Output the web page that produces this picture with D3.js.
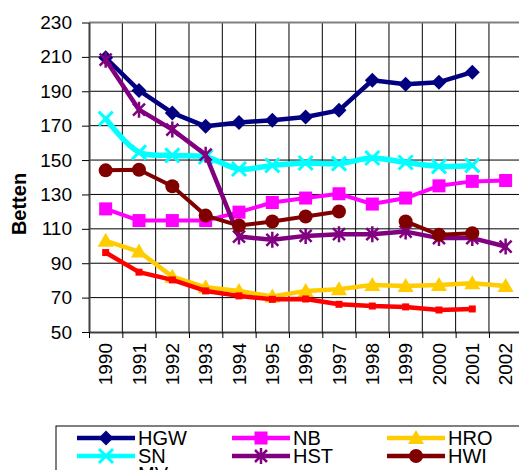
<!DOCTYPE html>
<html>
<head>
<meta charset="utf-8">
<script src="https://cdn.jsdelivr.net/npm/d3@7"></script>
<style>
  html, body { margin: 0; padding: 0; background: #fff; }
  svg { display: block; font-family: "Liberation Sans", Arial, sans-serif; }
</style>
</head>
<body>
<svg id="chart" width="519" height="470"></svg>
<script>
// Beds per 1,000 inhabitants by city, 1990–2002
const years = ["1990","1991","1992","1993","1994","1995","1996","1997","1998","1999","2000","2001","2002"];
const yTicks = [50, 70, 90, 110, 130, 150, 170, 190, 210, 230];

const HGW = [209.5, 190.5, 177.4, 169.6, 171.9, 173.1, 175.0, 178.9, 196.4, 194.1, 195.3, 201.1, null];
const NB  = [121.6, 114.8, 114.8, 114.8, 119.7, 125.3, 127.9, 130.4, 124.4, 127.9, 135.0, 137.6, 138.1];
const HRO = [103.0, 96.8, 82.2, 76.0, 73.9, 70.6, 73.9, 74.9, 77.4, 76.8, 77.4, 78.4, 76.8];
const SN  = [174.1, 154.5, 152.7, 151.8, 144.8, 146.9, 148.3, 147.9, 151.2, 148.6, 146.3, 146.9, null];
const HST = [208.4, 179.3, 167.7, 153.1, 105.5, 103.6, 105.9, 106.9, 106.9, 108.4, 104.6, 104.6, 99.7];
const HWI = [144.0, 144.4, 134.8, 117.7, 111.9, 114.3, 117.2, 120.1, null, 114.3, 106.5, 107.5, null];
const MV  = [96.2, 84.8, 80.3, 73.9, 71.0, 69.0, 69.2, 66.1, 65.1, 64.6, 62.8, 63.4, null];

const series = [
  { name: "HGW", values: HGW, color: "#000080", width: 4.5, marker: "diamond" },
  { name: "NB",  values: NB,  color: "#FF00FF", width: 4,   marker: "square" },
  { name: "HRO", values: HRO, color: "#FFCC00", width: 4.5, marker: "triangle" },
  { name: "SN",  values: SN,  color: "#00FFFF", width: 5.5, marker: "x", smooth: true },
  { name: "HST", values: HST, color: "#800080", width: 4.5, marker: "star" },
  { name: "HWI", values: HWI, color: "#800000", width: 4,   marker: "circle" },
  { name: "MV",  values: MV,  color: "#FF0000", width: 4.5, marker: "smallsquare" }
];

const svg = d3.select("#chart");
const plotLeft = 89, plotTop = 22.5, plotBottom = 332, step = 33.33;

const x = d3.scaleBand().domain(years).range([plotLeft, plotLeft + step * years.length]);
const y = d3.scaleLinear().domain([50, 230]).range([plotBottom, plotTop]);

// grid
const grid = svg.append("g");
grid.selectAll("line.h").data(yTicks.slice(1, -1)).join("line")
  .attr("x1", plotLeft).attr("x2", x.range()[1])
  .attr("y1", d => y(d)).attr("y2", d => y(d))
  .attr("stroke", "#000").attr("stroke-width", 1);
grid.selectAll("line.v").data(years.slice(1)).join("line")
  .attr("x1", d => x(d)).attr("x2", d => x(d))
  .attr("y1", plotTop).attr("y2", plotBottom)
  .attr("stroke", "#000").attr("stroke-width", 1);
// plot-area top border
grid.append("line")
  .attr("x1", plotLeft).attr("x2", x.range()[1])
  .attr("y1", plotTop).attr("y2", plotTop)
  .attr("stroke", "#808080").attr("stroke-width", 2);

// y axis
const yAxis = svg.append("g")
  .attr("transform", `translate(${plotLeft},0)`)
  .call(d3.axisLeft(y).tickValues(yTicks).tickSize(7).tickPadding(10).tickSizeOuter(0));
yAxis.select(".domain").attr("stroke", "#404040").attr("stroke-width", 2);
yAxis.selectAll(".tick line").attr("stroke", "#000").attr("stroke-width", 1);
yAxis.selectAll(".tick text").attr("font-size", 19).attr("fill", "#000")
  .attr("font-family", "Liberation Sans, Arial, sans-serif");

// x axis: ticks at category boundaries, labels rotated
const xb = d3.scaleLinear().domain([0, years.length]).range(x.range());
const xTickAxis = svg.append("g")
  .attr("transform", `translate(0,${plotBottom})`)
  .call(d3.axisBottom(xb).tickValues(d3.range(0, years.length + 1)).tickSize(6).tickFormat("").tickSizeOuter(0));
xTickAxis.select(".domain").attr("stroke", "#404040").attr("stroke-width", 2);
xTickAxis.selectAll(".tick line").attr("stroke", "#000").attr("stroke-width", 1);

const xAxis = svg.append("g")
  .attr("transform", `translate(0,${plotBottom})`)
  .call(d3.axisBottom(x).tickSize(0).tickPadding(0));
xAxis.select(".domain").remove();
xAxis.selectAll(".tick text")
  .attr("font-size", 19).attr("fill", "#000")
  .attr("font-family", "Liberation Sans, Arial, sans-serif")
  .attr("text-anchor", "end")
  .attr("transform", "translate(0,11) rotate(-90)")
  .attr("x", 0).attr("y", 0).attr("dy", "0.35em");

// y title
svg.append("text")
  .attr("transform", "translate(26,204) rotate(-90)")
  .attr("text-anchor", "middle")
  .attr("font-size", 20).attr("font-weight", "bold")
  .text("Betten");

// markers
function drawMarker(g, type, color) {
  switch (type) {
    case "diamond":
      g.append("path").attr("d", "M0,-7.5L7.5,0L0,7.5L-7.5,0Z").attr("fill", color); break;
    case "square":
      g.append("rect").attr("x", -6.5).attr("y", -6.5).attr("width", 13).attr("height", 13).attr("fill", color); break;
    case "triangle":
      g.append("path").attr("d", "M0,-8L8,6L-8,6Z").attr("fill", color); break;
    case "x":
      g.append("path").attr("d", "M-7,-7L7,7M-7,7L7,-7").attr("stroke", color).attr("stroke-width", 3).attr("fill", "none"); break;
    case "star":
      g.append("path").attr("d", "M-6,-6L6,6M-6,6L6,-6M0,-8L0,8").attr("stroke", color).attr("stroke-width", 2.5).attr("fill", "none"); break;
    case "circle":
      g.append("circle").attr("r", 7).attr("fill", color); break;
    case "smallsquare":
      g.append("rect").attr("x", -3.5).attr("y", -3.5).attr("width", 7).attr("height", 7).attr("fill", color); break;
  }
}

// series
const plot = svg.append("g");
series.forEach(s => {
  const pts = years.map((yr, i) => ({ yr, v: s.values[i] }));
  const line = d3.line()
    .defined(d => d.v != null)
    .x(d => x(d.yr) + x.bandwidth() / 2)
    .y(d => y(d.v))
    .curve(s.smooth ? d3.curveCatmullRom.alpha(0.5) : d3.curveLinear);
  const g = plot.append("g");
  g.append("path").datum(pts).attr("d", line)
    .attr("fill", "none").attr("stroke", s.color).attr("stroke-width", s.width)
    .attr("stroke-linejoin", "round").attr("stroke-linecap", "round");
  pts.filter(d => d.v != null).forEach(d => {
    const m = g.append("g").attr("transform", `translate(${x(d.yr) + x.bandwidth() / 2},${y(d.v)})`);
    drawMarker(m, s.marker, s.color);
  });
});

// legend
const legend = svg.append("g");
legend.append("rect").attr("x", 56).attr("y", 426).attr("width", 500).attr("height", 80)
  .attr("fill", "#fff").attr("stroke", "#000").attr("stroke-width", 1);
const colX = [77, 232, 387], rowY = [438, 456, 474];
series.forEach((s, i) => {
  const cx = colX[i % 3], cy = rowY[Math.floor(i / 3)];
  const g = legend.append("g");
  g.append("line").attr("x1", cx).attr("x2", cx + 58).attr("y1", cy).attr("y2", cy)
    .attr("stroke", s.color).attr("stroke-width", 4.5);
  drawMarker(g.append("g").attr("transform", `translate(${cx + 29},${cy})`), s.marker, s.color);
  g.append("text").attr("x", cx + 61).attr("y", cy).attr("dy", "0.36em")
    .attr("font-size", 20).text(s.name);
});
</script>
</body>
</html>
